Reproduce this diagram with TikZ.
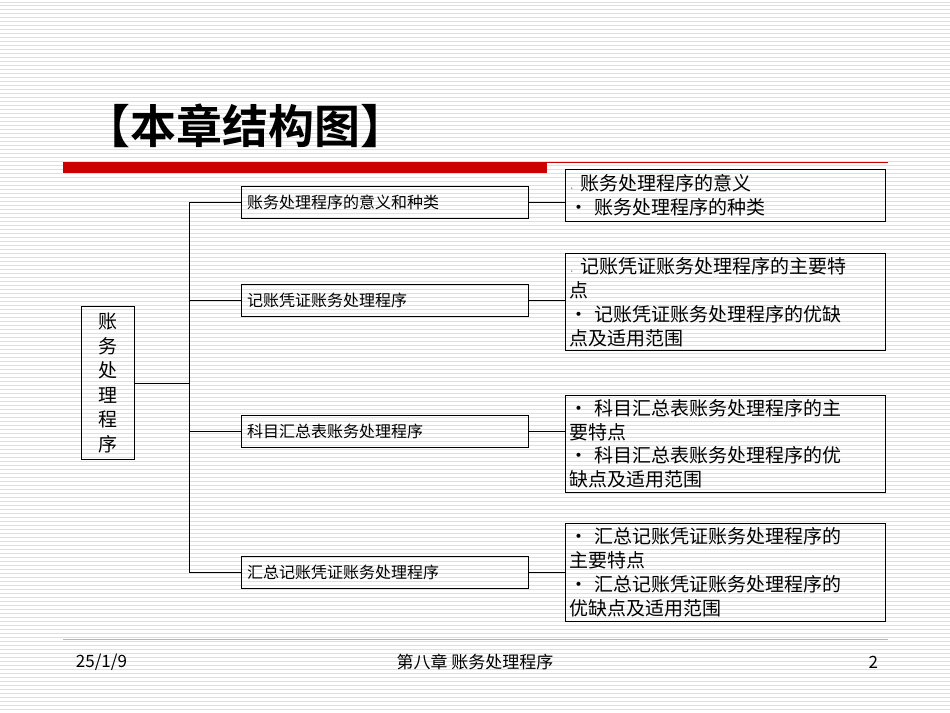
\documentclass[tikz,border=0pt]{standalone}
\usepackage{fontspec}
\setmainfont{Noto Sans CJK SC}
\newfontfamily\cjkb{Noto Sans CJK SC Bold}
\begin{document}
\begin{tikzpicture}[x=1pt,y=-1pt,
 mid/.style={draw,line width=0.8pt,minimum width=287pt,minimum height=32pt,font=\fontsize{16}{18}\selectfont,text width=275pt,align=left,inner sep=5pt},
 rbox/.style={draw,line width=0.8pt,text width=312pt,align=left,font=\fontsize{19}{24}\selectfont,inner sep=4pt,anchor=north west},
 ln/.style={line width=0.8pt}]
\fill[white] (0,0) rectangle (950,713);
\foreach \y in {2,6,...,712} \draw[gray!25,line width=1pt] (0,\y) -- (950,\y);
\useasboundingbox (0,0) rectangle (950,713);
\node[font=\cjkb\fontsize{46}{50}\selectfont] (title) at (245,126) {【本章结构图】};
\fill[red!80!black] (63,162) rectangle (547,173);
\draw[red!80!black,line width=1pt] (547,163) -- (888,163);
\node[draw,line width=0.8pt,minimum width=53pt,minimum height=153pt,font=\fontsize{19}{24.5}\selectfont,align=center,inner sep=2pt] (root) at (107.5,383.5) {账\\务\\处\\理\\程\\序};
\node[mid] (m1) at (384.5,203) {账务处理程序的意义和种类};
\node[mid] (m2) at (384.5,301) {记账凭证账务处理程序};
\node[mid] (m3) at (384.5,432) {科目汇总表账务处理程序};
\node[mid] (m4) at (384.5,573) {汇总记账凭证账务处理程序};
\node[rbox,minimum height=52pt] (r1) at (565,169) {{\tiny·} 账务处理程序的意义\\· 账务处理程序的种类};
\node[rbox,minimum height=97pt] (r2) at (565,253) {{\tiny·} 记账凭证账务处理程序的主要特\\点\\· 记账凭证账务处理程序的优缺\\点及适用范围};
\node[rbox,minimum height=96pt] (r3) at (565,395) {· 科目汇总表账务处理程序的主\\要特点\\· 科目汇总表账务处理程序的优\\缺点及适用范围};
\node[rbox,minimum height=96pt] (r4) at (565,524) {· 汇总记账凭证账务处理程序的\\主要特点\\· 汇总记账凭证账务处理程序的\\优缺点及适用范围};
\coordinate (j) at (189,383.5);
\draw[ln] (root.east) -- (j);
\draw[ln] (m1.west) -| (j) |- (m4.west);
\draw[ln] (m2.west) -- (m2.west -| j);
\draw[ln] (m3.west) -- (m3.west -| j);
\draw[ln] (m1.east) -- (m1.east -| r1.west);
\draw[ln] (m2.east) -- (m2.east -| r2.west);
\draw[ln] (m3.east) -- (m3.east -| r3.west);
\draw[ln] (m4.east) -- (m4.east -| r4.west);
\draw[red!40,line width=1pt] (63,640) -- (888,640);
\node[font=\fontsize{17}{20}\selectfont,anchor=west] (date) at (72,663) {25/1/9};
\node[font=\fontsize{17}{20}\selectfont] (foot) at (475,663) {第八章 账务处理程序};
\node[font=\fontsize{17}{20}\selectfont,anchor=east] (page) at (882,663) {2};
\end{tikzpicture}
\end{document}
